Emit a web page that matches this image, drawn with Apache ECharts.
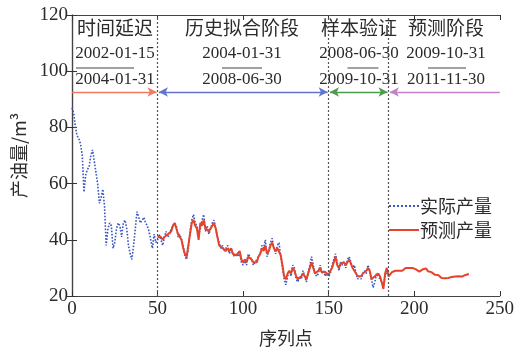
<!DOCTYPE html>
<html>
<head>
<meta charset="utf-8">
<script src="https://cdn.jsdelivr.net/npm/echarts@6/dist/echarts.min.js"></script>
<style>
  html, body { margin: 0; padding: 0; background: #fff; }
  #chart { width: 517px; height: 352px; }
</style>
</head>
<body>
<div id="chart"></div>
<script>
// Observed daily oil output, sequence points 0..185
const actualValues = [
  87, 85, 80, 77, 76, 74, 70, 57, 63, 65,
  66, 70, 72, 68, 64, 60, 53, 55, 58, 52,
  38, 44, 46, 45, 37, 39, 44, 46, 45, 41,
  46, 47, 44, 38, 35, 33, 38, 44, 50, 48,
  46, 47, 48, 46, 45, 43, 40, 37, 42, 39,
  40, 42, 40, 38, 41, 43, 41, 42, 44, 44,
  46, 45, 41, 42, 40, 38, 34, 33, 37, 43,
  47, 49, 46, 45, 42, 44, 47, 49, 43, 45,
  42, 44, 46, 47, 44, 41, 39, 37, 38, 36,
  37, 38, 35, 37, 35, 34, 35, 34, 35, 32,
  31, 33, 31, 35, 35, 33, 31, 32, 33, 34,
  35, 38, 37, 40, 34, 36, 39, 40.5, 37, 35,
  38, 39, 34, 30, 26, 24, 27, 29, 27, 31,
  30, 26, 25, 27, 26, 29, 27, 25, 25, 31,
  34, 31, 28, 27, 28, 31, 28, 29, 27, 28,
  27, 28, 31, 33, 35, 32, 29, 32, 31, 32,
  30, 33, 34, 32, 30, 31, 28, 26, 27, 26,
  28, 29, 28, 31, 29, 26, 23, 25, 28, 27,
  26, 26, 24, 27, 29, 28
];

// Model output, sequence points 50..232
const predictedStart = 50;
const predictedValues = [
  41, 40.5, 41, 40, 41, 41.5, 42, 41.5, 43, 45,
  46, 44, 42, 41, 40, 37, 35, 34, 38, 42,
  46, 47, 45, 44, 40, 46, 45, 47, 44, 44,
  43, 44, 45, 46, 44, 41, 38, 38, 37, 37,
  36, 37, 36, 37, 35, 35.5, 34.5, 35, 36, 33,
  32, 33, 32, 34, 34.5, 33, 32, 32.5, 32, 34,
  35, 37, 36, 38, 35, 36, 38, 39, 37, 36,
  37, 37.5, 34.5, 31, 27, 26, 28, 29, 28, 30,
  29, 27, 26, 26.5, 27, 28, 28, 26, 25.5, 30,
  32, 30, 28, 28.5, 29, 30, 28.5, 28, 28.5, 28,
  27.5, 29, 30, 32, 34, 31, 30, 31.5, 31, 32,
  31, 32, 33, 31.5, 30, 30, 28, 27, 27.5, 27,
  28, 28.5, 29, 30, 29, 26, 25.5, 27, 27.5, 28,
  27, 25, 22.5, 28, 30, 27, 27.5, 28.5, 28, 29,
  29.5, 29, 29.3, 29, 29.5, 30, 30.5, 30, 30.3, 30,
  29.8, 29.5, 29, 28.7, 29, 29.5, 29.5, 29.8, 28.8, 28.2,
  28.5, 28, 27.6, 27.8, 27.5, 27, 26.4, 26.6, 26.3, 26.5,
  26.4, 26.6, 26.8, 26.6, 26.9, 26.7, 27, 27.1, 26.9, 27.2,
  27.5, 27.6, 27.8
];

// Stage boundaries on the sequence axis
const stageBounds = [0, 50, 150, 185, 250];
const stageNames = ['时间延迟', '历史拟合阶段', '样本验证', '预测阶段'];
const stageStart = ['2002-01-15', '2004-01-31', '2008-06-30', '2009-10-31'];
const stageEnd = ['2004-01-31', '2008-06-30', '2009-10-31', '2011-11-30'];
const arrowColors = ['#f07a62', '#6274cc', '#4e9a4e', '#c77ec9'];
const arrowLevel = 92.6;

const xTicks = { min: 0, max: 250, interval: 50 };
const yTicks = { min: 20, max: 120, interval: 20 };

const serif = '"Liberation Serif", "DejaVu Serif", serif';
const cjk = '"Noto Sans CJK SC", sans-serif';
const textColor = '#2b2b2b';

const actualData = actualValues.map((v, i) => [i, v]);
const predictedData = predictedValues.map((v, i) => [predictedStart + i, v]);

// Vertical stage separators
const separatorLines = stageBounds.slice(1, 4).map(x => ({ xAxis: x }));

// Horizontal arrows spanning each stage
const arrowHeads = [['none', 'arrow'], ['arrow', 'arrow'], ['arrow', 'arrow'], ['arrow', 'none']];
const arrowPad = [[0, 0.6], [0.8, 0.6], [0.8, 0.6], [0.8, 0]];
const arrowLines = stageNames.map((_, k) => [
  { coord: [stageBounds[k] + arrowPad[k][0], arrowLevel], symbol: arrowHeads[k][0],
    lineStyle: { color: arrowColors[k], type: 'solid', width: 1.3 } },
  { coord: [stageBounds[k + 1] - arrowPad[k][1], arrowLevel], symbol: arrowHeads[k][1] }
]);

const chart = echarts.init(document.getElementById('chart'));

const tickStyle = { inside: true, length: 5, lineStyle: { color: '#333', width: 1 } };
const lineStyleAxis = { show: true, lineStyle: { color: '#444', width: 1.2 } };

chart.setOption({
  animation: false,
  backgroundColor: '#fff',
  grid: { left: 72, right: 17, top: 15, bottom: 56 },
  xAxis: [{
    type: 'value', min: xTicks.min, max: xTicks.max, interval: xTicks.interval,
    name: '序列点', nameLocation: 'middle', nameGap: 33,
    nameTextStyle: { fontFamily: cjk, fontSize: 18, color: textColor },
    axisLine: lineStyleAxis, axisTick: tickStyle, splitLine: { show: false },
    axisLabel: { fontFamily: serif, fontSize: 19, color: textColor, margin: 4 }
  }, {
    type: 'value', position: 'top', min: xTicks.min, max: xTicks.max, interval: xTicks.interval,
    axisLine: lineStyleAxis, axisTick: tickStyle, splitLine: { show: false },
    axisLabel: { show: false }
  }],
  yAxis: [{
    type: 'value', min: yTicks.min, max: yTicks.max, interval: yTicks.interval,
    name: '产油量/m³', nameLocation: 'middle', nameGap: 35,
    nameTextStyle: { fontFamily: cjk, fontSize: 18, color: textColor },
    axisLine: lineStyleAxis, axisTick: tickStyle, splitLine: { show: false },
    axisLabel: { fontFamily: serif, fontSize: 19, color: textColor, margin: 4 }
  }, {
    type: 'value', position: 'right', min: yTicks.min, max: yTicks.max, interval: yTicks.interval,
    axisLine: lineStyleAxis, axisTick: tickStyle, splitLine: { show: false },
    axisLabel: { show: false }
  }],
  legend: {
    orient: 'vertical', right: 20, top: 192, itemGap: 6,
    itemWidth: 30, itemHeight: 10,
    itemStyle: { opacity: 0 },
    textStyle: { fontFamily: cjk, fontSize: 18, color: textColor, padding: [0, 0, 0, -4] },
    data: ['实际产量', '预测产量']
  },
  series: [{
    name: '实际产量', type: 'line', data: actualData,
    symbol: 'none', z: 2,
    lineStyle: { color: '#3a56c4', width: 1.6, type: 'dotted' },
    itemStyle: { color: '#3a56c4' },
    markLine: {
      silent: true, symbol: 'none', animation: false,
      label: { show: false },
      lineStyle: { color: '#555', type: [2, 2], width: 1.2 },
      symbolSize: [7, 9],
      data: [...separatorLines, ...arrowLines]
    }
  }, {
    name: '预测产量', type: 'line', data: predictedData,
    symbol: 'none', z: 3,
    lineStyle: { color: '#e5432a', width: 2 },
    itemStyle: { color: '#e5432a' }
  }]
});

// Stage titles and date ranges above the arrows
const titleX = [115, 242, 359, 446];
const barWidth = [58, 40, 31, 38];
const barOffset = [-10, 0, 4, 1];
const graphics = [];
stageNames.forEach((name, k) => {
  graphics.push({
    type: 'text', x: titleX[k], y: 28,
    style: { text: name, font: '19px ' + cjk, fill: textColor, align: 'center', verticalAlign: 'middle' }
  });
  graphics.push({
    type: 'text', x: titleX[k], y: 54,
    style: { text: stageStart[k], font: '17px ' + serif, fill: textColor, align: 'center', verticalAlign: 'middle' }
  });
  graphics.push({
    type: 'line',
    shape: { x1: titleX[k] + barOffset[k] - barWidth[k] / 2, y1: 68, x2: titleX[k] + barOffset[k] + barWidth[k] / 2, y2: 68 },
    style: { stroke: '#444', lineWidth: 1 }
  });
  graphics.push({
    type: 'text', x: titleX[k], y: 80,
    style: { text: stageEnd[k], font: '17px ' + serif, fill: textColor, align: 'center', verticalAlign: 'middle' }
  });
});
chart.setOption({ graphic: graphics });
</script>
</body>
</html>
